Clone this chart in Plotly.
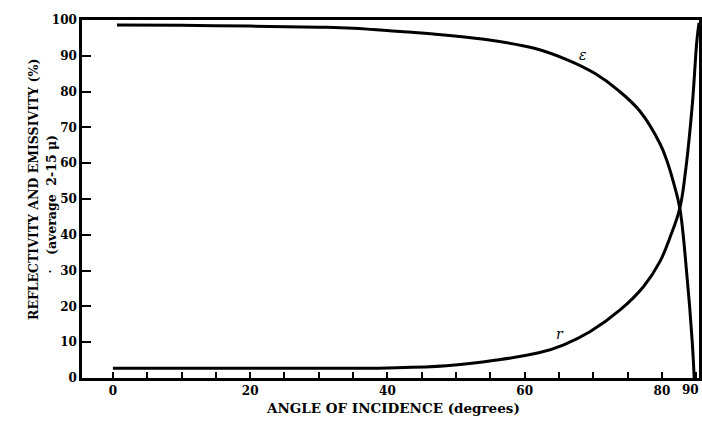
import plotly.graph_objects as go

# Angle of incidence (degrees, as read on the chart's linear axis; the 80-90 segment is compressed)
eps_angle = [0.6, 10, 20, 30, 35, 42.3, 46.7, 54.1, 61.4, 66.3, 70.2, 73.6, 76.8, 79.7, 80.7, 81.7, 82.6, 83.6, 84.4, 84.7]
eps_value = [98.6, 98.5, 98.3, 98.0, 97.7, 96.7, 96.1, 94.6, 92.1, 88.8, 85.1, 80.4, 74.5, 65.5, 60.8, 54.5, 47.5, 29.5, 10.5, 0.0]

r_angle = [0, 10, 20, 30, 40, 48.6, 55.9, 62.2, 65.6, 69.5, 73.9, 77.3, 79.7, 81.2, 82.6, 83.4, 84.4, 85.1, 85.4]
r_value = [2.7, 2.7, 2.7, 2.7, 2.8, 3.4, 5.0, 7.1, 9.2, 12.9, 19.0, 25.5, 32.5, 39.4, 47.4, 57.2, 75.8, 94.4, 99.2]

x_tickvals = [0, 20, 40, 60, 80]
x_ticktext = ["0", "20", "40", "60", "80"]
x_end_label = "90"
y_tickvals = [0, 10, 20, 30, 40, 50, 60, 70, 80, 90, 100]

FONT = "DejaVu Serif"
line_style = dict(color="black", width=3, shape="spline", smoothing=1.1)

fig = go.Figure()
fig.add_trace(go.Scatter(x=eps_angle, y=eps_value, mode="lines", line=line_style,
                         name="ε", showlegend=False, hoverinfo="skip"))
fig.add_trace(go.Scatter(x=r_angle, y=r_value, mode="lines", line=line_style,
                         name="r", showlegend=False, hoverinfo="skip"))

fig.update_layout(
    width=702, height=424,
    margin=dict(l=82, r=3, t=20, b=46, autoexpand=False),
    paper_bgcolor="white", plot_bgcolor="white",
    font=dict(family=FONT, color="black", size=12),
    xaxis=dict(
        range=[-4.5, 85.4], showgrid=False, zeroline=False, automargin=False,
        showline=True, linecolor="black", linewidth=2.5, mirror=True,
        ticks="inside", ticklen=6, tickwidth=1.5, tickcolor="black",
        tickvals=x_tickvals, ticktext=[f"<b>{t}</b>" for t in x_ticktext],
        tickfont=dict(family=FONT, size=12),
        minor=dict(tick0=0, dtick=5, ticks="inside", ticklen=6, tickwidth=1.5, tickcolor="black"),
    ),
    yaxis=dict(
        range=[0, 100], showgrid=False, zeroline=False, automargin=False,
        showline=True, linecolor="black", linewidth=2.5, mirror=True,
        ticks="inside", ticklen=9, tickwidth=2, tickcolor="black",
        tickvals=y_tickvals, ticktext=[f"<b>{v}</b>" for v in y_tickvals],
        tickfont=dict(family=FONT, size=12),
    ),
)

annotations = [
    dict(text=f"<b>{x_end_label}</b>", x=(701 - 82) / 617, y=-(390 - 378) / 358,
         xref="paper", yref="paper", showarrow=False, xanchor="right", yanchor="middle",
         font=dict(family=FONT, size=12)),
    dict(text="<b>ANGLE OF INCIDENCE (degrees)</b>", x=(393 - 82) / 617, y=-(408 - 378) / 358,
         xref="paper", yref="paper", showarrow=False, xanchor="center", yanchor="middle",
         font=dict(family=FONT, size=13.5)),
    dict(text="<b>REFLECTIVITY AND EMISSIVITY (%)</b>", x=(33 - 82) / 617, y=(378 - 190) / 358,
         xref="paper", yref="paper", showarrow=False, textangle=-90, xanchor="center", yanchor="middle",
         font=dict(family=FONT, size=12.5)),
    dict(text="<b>(average  2-15 μ)</b>", x=(51 - 82) / 617, y=(378 - 195) / 358,
         xref="paper", yref="paper", showarrow=False, textangle=-90, xanchor="center", yanchor="middle",
         font=dict(family=FONT, size=12.5)),
    dict(text="•", x=(50 - 82) / 617, y=(378 - 272) / 358,
         xref="paper", yref="paper", showarrow=False, xanchor="center", yanchor="middle",
         font=dict(family=FONT, size=7)),
    dict(text="<i>ε</i>", x=68.5, y=90.2, xref="x", yref="y", showarrow=False,
         font=dict(family=FONT, size=14)),
    dict(text="<i>r</i>", x=65.2, y=12.3, xref="x", yref="y", showarrow=False,
         font=dict(family=FONT, size=14)),
]
fig.update_layout(annotations=annotations)

fig.write_html("out.html", config={"displayModeBar": False},
               post_script="document.body.style.margin='0';document.body.style.overflow='hidden';")
